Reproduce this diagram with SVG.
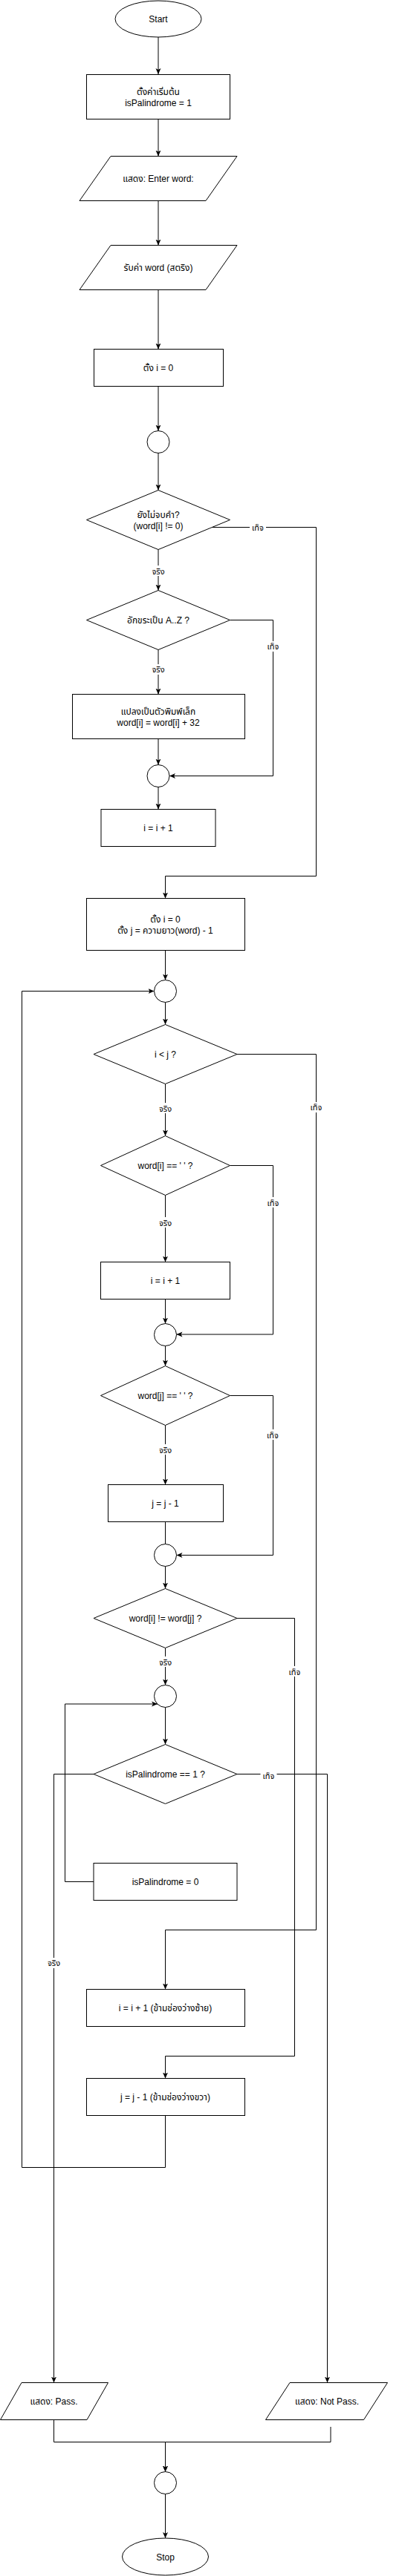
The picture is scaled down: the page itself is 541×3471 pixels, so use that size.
<svg xmlns="http://www.w3.org/2000/svg" width="541" height="3471" viewBox="0 0 541 3471">
<style>
.n{fill:#fff;stroke:#000;stroke-width:1}
.t{font-family:"Liberation Sans","Noto Sans Thai","Noto Sans","DejaVu Sans",sans-serif;font-size:12px;fill:#000;text-anchor:middle}
.l{font-family:"Liberation Sans","Noto Sans Thai","Noto Sans","DejaVu Sans",sans-serif;font-size:11px;fill:#000;text-anchor:middle}
.c{fill:none;stroke:#000;stroke-width:1}
.a{marker-end:url(#arr)}
.lb{fill:#fff;stroke:none}
</style>
<defs>
<marker id="arr" viewBox="0 0 8 8" refX="8" refY="4" markerWidth="8" markerHeight="8" markerUnits="userSpaceOnUse" orient="auto">
<path d="M0,0.5 L8,4 L0,7.5 L2,4 Z" fill="#000"/>
</marker>
</defs>
<rect width="541" height="3471" fill="#fff"/>
<g id="connectors">
<path class="c a" d="M213,50 V100"/>
<path class="c a" d="M213,160.5 V210.5"/>
<path class="c a" d="M213,270.5 V330.5"/>
<path class="c a" d="M213,390.5 V470.5"/>
<path class="c a" d="M213,520.5 V580.5"/>
<path class="c a" d="M213,610.5 V660.5"/>
<path class="c a" d="M285,710.5 H425.5 V1180.5 H222.5 V1210.5"/>
<path class="c a" d="M213,740.5 V795.5"/>
<path class="c a" d="M309.5,835.5 H367.5 V1045.5 H228"/>
<path class="c a" d="M213,875.5 V935.5"/>
<path class="c a" d="M213,995.5 V1030.5"/>
<path class="c a" d="M213,1060.5 V1090.5"/>
<path class="c a" d="M222.5,1280.5 V1320.5"/>
<path class="c a" d="M222.5,1350.5 V1380.5"/>
<path class="c a" d="M319,1420.5 H425.5 V2600.5 H222.5 V2680.5"/>
<path class="c a" d="M222.5,1460.5 V1530.5"/>
<path class="c a" d="M309.5,1570.5 H367.5 V1798 H237.5"/>
<path class="c a" d="M222.5,1610.5 V1700.5"/>
<path class="c a" d="M222.5,1750.5 V1783.5"/>
<path class="c a" d="M222.5,1813.5 V1840.5"/>
<path class="c a" d="M309.5,1880.5 H367.5 V2095.5 H237.5"/>
<path class="c a" d="M222.5,1920.5 V2000.5"/>
<path class="c" d="M222.5,2050.5 V2080.5"/>
<path class="c a" d="M222.5,2110.5 V2140.5"/>
<path class="c a" d="M319,2180.5 H396.5 V2770.5 H222.5 V2800.5"/>
<path class="c a" d="M222.5,2220.5 V2270.5"/>
<path class="c a" d="M222.5,2300.5 V2350.5"/>
<path class="c a" d="M319,2390.5 H440.5 V3210.5"/>
<path class="c a" d="M126,2390.5 H72.5 V3210.5"/>
<path class="c a" d="M126,2535.5 H87.5 V2296 H212"/>
<path class="c a" d="M222.5,2850.5 V2920.5 H29.5 V1335.5 H207.5"/>
<path class="c a" d="M72.5,3260.5 V3290.5 H222.5 V3330.5"/>
<path class="c a" d="M445,3270 V3290.5 H222.5 V3330.5"/>
<path class="c a" d="M222.5,3360.5 V3420"/>
<rect class="lb" x="336" y="703" width="22" height="14"/><text class="l" x="347" y="714.5">เท็จ</text>
<rect class="lb" x="203" y="762" width="20" height="14"/><text class="l" x="213" y="773.5">จริง</text>
<rect class="lb" x="356.5" y="864" width="22" height="14"/><text class="l" x="367.5" y="875">เท็จ</text>
<rect class="lb" x="203" y="895" width="20" height="14"/><text class="l" x="213" y="906">จริง</text>
<rect class="lb" x="414.5" y="1485" width="22" height="14"/><text class="l" x="425.5" y="1496">เท็จ</text>
<rect class="lb" x="212.5" y="1486" width="20" height="14"/><text class="l" x="222.5" y="1497.5">จริง</text>
<rect class="lb" x="356.5" y="1613" width="22" height="14"/><text class="l" x="367.5" y="1624.5">เท็จ</text>
<rect class="lb" x="212.5" y="1640" width="20" height="14"/><text class="l" x="222.5" y="1651.5">จริง</text>
<rect class="lb" x="356" y="1926" width="22" height="14"/><text class="l" x="367" y="1937.5">เท็จ</text>
<rect class="lb" x="212.5" y="1946" width="20" height="14"/><text class="l" x="222.5" y="1957.5">จริง</text>
<rect class="lb" x="385.5" y="2245" width="22" height="14"/><text class="l" x="396.5" y="2256.5">เท็จ</text>
<rect class="lb" x="212.5" y="2232" width="20" height="14"/><text class="l" x="222.5" y="2243.5">จริง</text>
<rect class="lb" x="350.5" y="2385" width="22" height="14"/><text class="l" x="361.5" y="2396.5">เท็จ</text>
<rect class="lb" x="62.5" y="2638" width="20" height="14"/><text class="l" x="72.5" y="2649">จริง</text>
</g>
<g id="start"><ellipse class="n" cx="213" cy="25.5" rx="58" ry="24.5"/><text class="t" x="213" y="30">Start</text></g>
<g id="init"><rect class="n" x="116.5" y="100.5" width="193" height="60"/><text class="t" x="213" y="128">ตั้งค่าเริ่มต้น</text><text class="t" x="213" y="142.5">isPalindrome = 1</text></g>
<g id="prompt"><polygon class="n" points="149,210.5 319,210.5 277,270.5 107,270.5"/><text class="t" x="213" y="245">แสดง: Enter word:</text></g>
<g id="read"><polygon class="n" points="149,330.5 319,330.5 277,390.5 107,390.5"/><text class="t" x="213" y="365">รับค่า word (สตริง)</text></g>
<g id="seti"><rect class="n" x="126.5" y="470.5" width="174" height="50"/><text class="t" x="213" y="500">ตั้ง i = 0</text></g>
<g id="c1"><circle class="n" cx="213" cy="595.5" r="15"/></g>
<g id="d1"><polygon class="n" points="213,660.5 309.5,700.5 213,740.5 116.5,700.5"/><text class="t" x="213" y="698">ยังไม่จบคำ?</text><text class="t" x="213" y="713">(word[i] != 0)</text></g>
<g id="d2"><polygon class="n" points="213,795.5 309.5,835.5 213,875.5 116.5,835.5"/><text class="t" x="213" y="840">อักขระเป็น A..Z ?</text></g>
<g id="lower"><rect class="n" x="97.5" y="935.5" width="232" height="60"/><text class="t" x="213" y="963">แปลงเป็นตัวพิมพ์เล็ก</text><text class="t" x="213" y="978">word[i] = word[i] + 32</text></g>
<g id="c2"><circle class="n" cx="213" cy="1045.5" r="15"/></g>
<g id="inc1"><rect class="n" x="136" y="1090.5" width="154" height="50"/><text class="t" x="213" y="1120">i = i + 1</text></g>
<g id="setij"><rect class="n" x="116.5" y="1210.5" width="213" height="70"/><text class="t" x="222.5" y="1243">ตั้ง i = 0</text><text class="t" x="222.5" y="1258">ตั้ง j = ความยาว(word) - 1</text></g>
<g id="c3"><circle class="n" cx="222.5" cy="1335.5" r="15"/></g>
<g id="d3"><polygon class="n" points="222.5,1380.5 319,1420.5 222.5,1460.5 126,1420.5"/><text class="t" x="222.5" y="1425">i &lt; j ?</text></g>
<g id="d4"><polygon class="n" points="222.5,1530.5 309.5,1570.5 222.5,1610.5 135.5,1570.5"/><text class="t" x="222.5" y="1575">word[i] == ' ' ?</text></g>
<g id="inc2"><rect class="n" x="135.5" y="1700.5" width="174" height="50"/><text class="t" x="222.5" y="1730">i = i + 1</text></g>
<g id="c4"><circle class="n" cx="222.5" cy="1798.5" r="15"/></g>
<g id="d5"><polygon class="n" points="222.5,1840.5 309.5,1880.5 222.5,1920.5 135.5,1880.5"/><text class="t" x="222.5" y="1885">word[j] == ' ' ?</text></g>
<g id="dec1"><rect class="n" x="145.5" y="2000.5" width="155" height="50"/><text class="t" x="222.5" y="2030">j = j - 1</text></g>
<g id="c5"><circle class="n" cx="222.5" cy="2095.5" r="15"/></g>
<g id="d6"><polygon class="n" points="222.5,2140.5 319,2180.5 222.5,2220.5 126,2180.5"/><text class="t" x="222.5" y="2185">word[i] != word[j] ?</text></g>
<g id="c6"><circle class="n" cx="222.5" cy="2285.5" r="15"/></g>
<g id="d7"><polygon class="n" points="222.5,2350.5 319,2390.5 222.5,2430.5 126,2390.5"/><text class="t" x="222.5" y="2395">isPalindrome == 1 ?</text></g>
<g id="setzero"><rect class="n" x="126" y="2510.5" width="193" height="50"/><text class="t" x="222.5" y="2540">isPalindrome = 0</text></g>
<g id="inc3"><rect class="n" x="116.5" y="2680.5" width="213" height="50"/><text class="t" x="222.5" y="2710">i = i + 1 (ข้ามช่องว่างซ้าย)</text></g>
<g id="dec2"><rect class="n" x="116.5" y="2800.5" width="213" height="50"/><text class="t" x="222.5" y="2830">j = j - 1 (ข้ามช่องว่างขวา)</text></g>
<g id="pass"><polygon class="n" points="29,3210.5 145.5,3210.5 117,3260.5 0.5,3260.5"/><text class="t" x="72.5" y="3240">แสดง: Pass.</text></g>
<g id="notpass"><polygon class="n" points="390,3210.5 521.5,3210.5 489.5,3260.5 357.5,3260.5"/><text class="t" x="440" y="3240">แสดง: Not Pass.</text></g>
<g id="c7"><circle class="n" cx="222.5" cy="3345.5" r="15"/></g>
<g id="stop"><ellipse class="n" cx="222.5" cy="3445" rx="58" ry="25"/><text class="t" x="222.5" y="3449.5">Stop</text></g>
</svg>
